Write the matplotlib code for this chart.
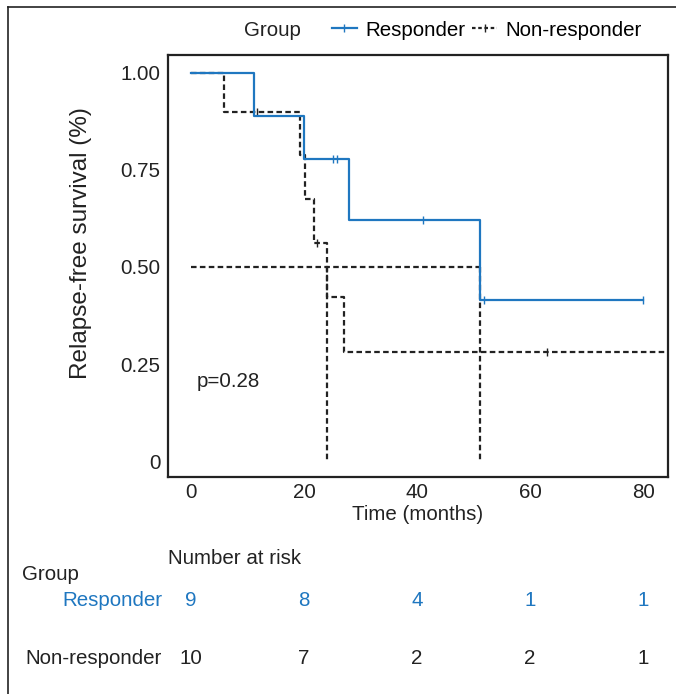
import numpy as np
import matplotlib
matplotlib.use("Agg")
import matplotlib.pyplot as plt
from matplotlib.lines import Line2D
from matplotlib import transforms

plt.rcParams['font.family'] = ['Liberation Sans', 'DejaVu Sans']

# follow-up times (months), 1 = relapse, 0 = censored
resp_time = np.array([11.2, 20.0, 25.1, 25.8, 28.0, 41.0, 51.2, 51.9, 80.0])
resp_event = np.array([1, 1, 0, 0, 1, 0, 1, 0, 0])
nonresp_time = np.array([5.9, 11.6, 19.3, 20.1, 21.8, 22.3, 24.0, 27.1, 63.0, 88.0])
nonresp_event = np.array([1, 0, 1, 1, 1, 0, 1, 1, 0, 0])

risk_times = [0, 20, 40, 60, 80]
resp_risk = [9, 8, 4, 1, 1]
nonresp_risk = [10, 7, 2, 2, 1]
p_text = "p=0.28"

blue = '#1f77c0'
black = '#222222'
fs = 14.8


def km(times, events):
    order = np.argsort(times)
    t = times[order]
    e = events[order]
    s = 1.0
    xs, ys = [0.0], [1.0]
    cens_x, cens_y = [], []
    for ti in np.unique(t):
        n = np.sum(t >= ti)
        d = np.sum((t == ti) & (e == 1))
        if d > 0:
            s *= 1 - d / n
            xs.append(ti)
            ys.append(s)
        if np.any((t == ti) & (e == 0)):
            cens_x.append(ti)
            cens_y.append(s)
    xs.append(t.max())
    ys.append(s)
    return np.array(xs), np.array(ys), cens_x, cens_y


def median_time(xs, ys):
    idx = np.where(ys <= 0.5)[0]
    return xs[idx[0]] if len(idx) else None


fig = plt.figure(figsize=(6.76, 6.94), dpi=100)
ax = fig.add_axes([168 / 676, 1 - 477 / 694, 500 / 676, 422 / 694])

dash = (0, (2.5, 1.5))
rx, ry, rcx, rcy = km(resp_time, resp_event)
nx, ny, ncx, ncy = km(nonresp_time, nonresp_event)

ax.step(rx, ry, where='post', color=blue, lw=1.6, zorder=3)
ax.plot(rcx, rcy, ls='none', marker='|', ms=6, mew=1, color=blue, zorder=3)
ax.step(nx, ny, where='post', color=black, lw=1.6, ls=dash, zorder=2)
ax.plot(ncx, ncy, ls='none', marker='|', ms=6, mew=1, color=black, zorder=2)

# median survival lines
meds = [m for m in (median_time(rx, ry), median_time(nx, ny)) if m is not None]
ax.plot([0, max(meds)], [0.5, 0.5], color=black, lw=1.6, ls=dash, zorder=1)
for m in meds:
    ax.plot([m, m], [0.5, 0], color=black, lw=1.6, ls=dash, zorder=1)

ax.text(1.0, 0.206, p_text, fontsize=fs, va='center', ha='left', color=black)

ax.set_xlim(-4.1, 84.4)
ax.set_ylim(-0.041, 1.046)
ax.set_xticks(risk_times)
ax.set_yticks([0, 0.25, 0.5, 0.75, 1.0])
ax.set_yticklabels(['0', '0.25', '0.50', '0.75', '1.00'])
ax.tick_params(length=0, labelsize=fs, colors=black)
ax.tick_params(axis='y', pad=5.5)
ax.tick_params(axis='x', pad=4.5)
for sp in ax.spines.values():
    sp.set_linewidth(1.6)
    sp.set_color(black)
ax.set_xlabel('Time (months)', fontsize=fs, color=black)
ax.xaxis.set_label_coords(0.5, (477 - 514) / 422)
ax.xaxis.label.set_va('center')
ax.set_ylabel('Relapse-free survival (%)', fontsize=17.5, color=black)
ax.yaxis.set_label_coords((81 - 168) / 500, (477 - 243) / 422)
ax.yaxis.label.set(va='center', ha='center')

# legend
handles = [
    Line2D([], [], color=blue, lw=1.6, marker='|', ms=6, mew=1),
    Line2D([], [], color=black, lw=1.6, ls=(0, (1.6, 1.2)), marker='|', ms=6, mew=1),
]
fig.text(244 / 676, 1 - 30 / 694, 'Group', fontsize=fs, va='center', ha='left', color=black)
fig.legend(handles, ['Responder', 'Non-responder'], loc='center left',
           bbox_to_anchor=(332 / 676, 1 - 30 / 694), ncol=2, frameon=False,
           fontsize=fs, handlelength=1.2, handletextpad=0.4, columnspacing=0.35,
           borderpad=0, borderaxespad=0)

# number at risk table
trans = transforms.blended_transform_factory(ax.transData, fig.transFigure)
fig.text(168 / 676, 1 - 558 / 694, 'Number at risk', fontsize=fs, va='center', ha='left', color=black)
fig.text(22 / 676, 1 - 575 / 694, 'Group', fontsize=fs, va='center', ha='left', color=black)
fig.text(162 / 676, 1 - 601 / 694, 'Responder', fontsize=fs, va='center', ha='right', color=blue)
fig.text(162 / 676, 1 - 658 / 694, 'Non-responder', fontsize=fs, va='center', ha='right', color=black)
for t, a, b in zip(risk_times, resp_risk, nonresp_risk):
    ax.text(t, 1 - 601 / 694, str(a), transform=trans, fontsize=fs, va='center', ha='center', color=blue)
    ax.text(t, 1 - 658 / 694, str(b), transform=trans, fontsize=fs, va='center', ha='center', color=black)

# outer frame (left and top edges)
fx, fy = 7.5 / 676, 1 - 6.5 / 694
fig.add_artist(Line2D([fx, fx], [0, fy], transform=fig.transFigure, color=black, lw=1.2))
fig.add_artist(Line2D([fx, 1], [fy, fy], transform=fig.transFigure, color=black, lw=1.2))

fig.savefig('out.png', dpi=100)
